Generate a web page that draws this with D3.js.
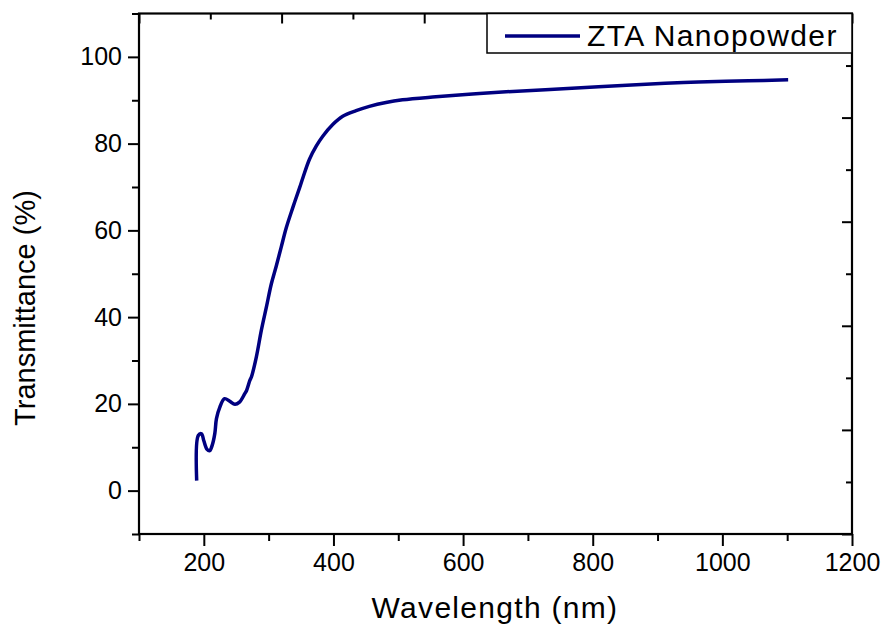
<!DOCTYPE html>
<html><head><meta charset="utf-8">
<script src="https://cdn.jsdelivr.net/npm/d3@7"></script>
<style>body{margin:0;background:#fff}svg{display:block}text{font-family:"Liberation Sans",Arial,sans-serif;fill:#000}</style>
</head><body><svg id="c" width="883" height="628"></svg>
<script>
const wavelength = [189,191.5,196.5,200,205,209,213,217,219.5,224.6,232,240,248,255,263,266,271,273.4,281,288.8,296.5,304.2,311.8,319.5,327.2,337.4,347.7,353,363,373.4,383.5,398.9,414.3,435,455.4,481,506.6,558,609,660.5,727,809,911.8,963,1040,1101.5];
const transmittance = [2.3,12.7,13.1,11.5,9.5,9.2,10.5,13.2,16.6,19.2,21.2,20.6,19.9,20.4,22.3,23.1,25.4,26.2,30.8,37,42.3,47.7,51.8,56.2,60.6,65.3,69.8,72.2,76.4,79.4,81.7,84.4,86.3,87.6,88.6,89.5,90.1,90.8,91.4,91.9,92.4,93.1,93.9,94.2,94.5,94.7];
const xTicks = [200,400,600,800,1000,1200];
const xMinorTicks = [100,300,500,700,900,1100];
const yTicks = [0,20,40,60,80,100];
const yMinorTicks = [-10,10,30,50,70,90,110];
const frameTicks = [0,0.2,0.4,0.6,0.8,1];
const frameMinorTicks = [0.1,0.3,0.5,0.7,0.9];
const seriesName = "ZTA Nanopowder";

const svg = d3.select("#c");
const L=139,R=852,T=13.5,B=534;
const x = d3.scaleLinear().domain([100,1200]).range([L,R]);
const y = d3.scaleLinear().domain([-10,110]).range([B,T]);
const xt = d3.scaleLinear().domain([0,1]).range([L,R]);
const yr = d3.scaleLinear().domain([0,1]).range([T,B]);

// bottom axis
svg.append("g").attr("transform",`translate(0,${B})`).call(d3.axisBottom(x).tickValues(xTicks).tickSize(12).tickPadding(7).tickFormat(d3.format("d")));
svg.append("g").attr("transform",`translate(0,${B})`).call(d3.axisBottom(x).tickValues(xMinorTicks).tickSize(7).tickFormat(""));
// left axis
svg.append("g").attr("transform",`translate(${L},0)`).call(d3.axisLeft(y).tickValues(yTicks).tickSize(11).tickPadding(6));
svg.append("g").attr("transform",`translate(${L},0)`).call(d3.axisLeft(y).tickValues(yMinorTicks).tickSize(7).tickFormat(""));
// top axis inward
svg.append("g").attr("transform",`translate(0,${T})`).call(d3.axisTop(xt).tickValues(frameTicks).tickSize(-10).tickFormat(""));
svg.append("g").attr("transform",`translate(0,${T})`).call(d3.axisTop(xt).tickValues(frameMinorTicks).tickSize(-6).tickFormat(""));
// right axis inward
svg.append("g").attr("transform",`translate(${R},0)`).call(d3.axisRight(yr).tickValues(frameTicks).tickSize(-10).tickFormat(""));
svg.append("g").attr("transform",`translate(${R},0)`).call(d3.axisRight(yr).tickValues(frameMinorTicks).tickSize(-6).tickFormat(""));

svg.selectAll(".domain").attr("stroke","none");
svg.selectAll(".tick line").attr("stroke","#000").attr("stroke-width",2);
svg.selectAll(".tick text").style("font-size","25px").attr("fill","#000");

// frame
svg.append("rect").attr("x",L).attr("y",T).attr("width",R-L).attr("height",B-T).attr("fill","none").attr("stroke","#000").attr("stroke-width",2.2);

// curve
const line = d3.line().x((d,i)=>x(wavelength[i])).y(d=>y(d)).curve(d3.curveCatmullRom.alpha(0.5));
svg.append("path").datum(transmittance).attr("d",line).attr("fill","none").attr("stroke","#000080").attr("stroke-width",3.5).attr("stroke-linejoin","round");

// legend
const lg = svg.append("g");
lg.append("rect").attr("x",487).attr("y",T).attr("width",R-487).attr("height",53-T).attr("fill","#fff").attr("stroke","#000").attr("stroke-width",1.5);
lg.append("line").attr("x1",505).attr("x2",580).attr("y1",36).attr("y2",36).attr("stroke","#000080").attr("stroke-width",3.5);
lg.append("text").attr("x",587).attr("y",46).style("font-size","30px").style("letter-spacing","1.4px").text(seriesName);

// titles
svg.append("text").attr("x",495).attr("y",618).attr("text-anchor","middle").style("font-size","30px").style("letter-spacing","1.3px").text("Wavelength (nm)");
svg.append("text").attr("transform","translate(35,308) rotate(-90)").attr("text-anchor","middle").style("font-size","29px").text("Transmittance (%)");
</script></body></html>
